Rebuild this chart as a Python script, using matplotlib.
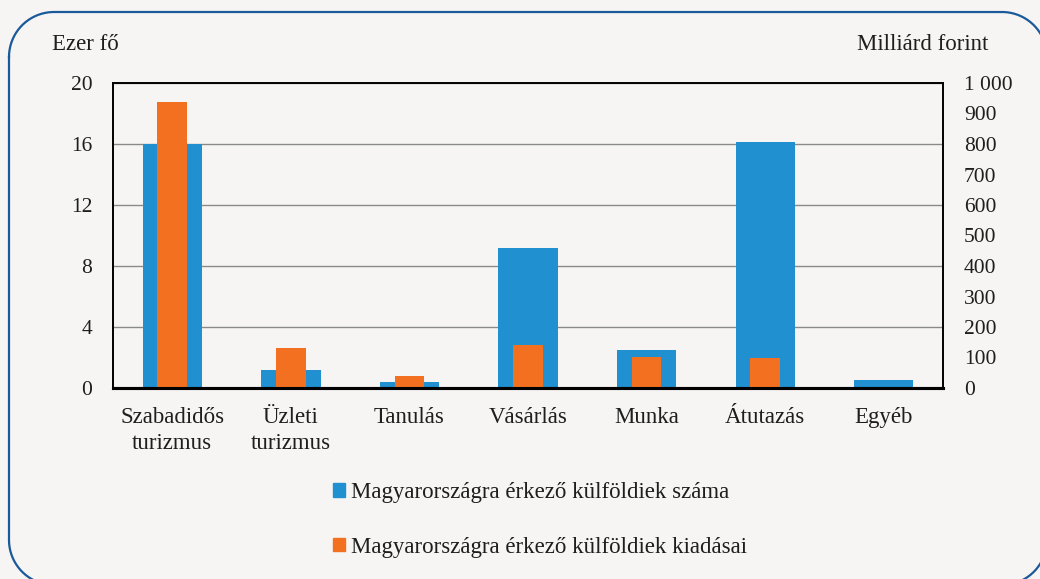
import matplotlib
matplotlib.use("Agg")
import matplotlib.pyplot as plt
import numpy as np
from matplotlib.patches import Patch
from matplotlib.lines import Line2D

categories = ["Szabadidős\nturizmus", "Üzleti\nturizmus", "Tanulás", "Vásárlás", "Munka", "Átutazás", "Egyéb"]
visitors = [16.0, 1.18, 0.37, 9.18, 2.47, 16.13, 0.5]        # ezer fő (left axis)
spending = [938, 131, 38, 141, 102, 100, 0]                   # milliárd forint (right axis)
left_ticks = [0, 4, 8, 12, 16, 20]
right_ticks = list(range(0, 1001, 100))
right_labels = ["0", "100", "200", "300", "400", "500", "600", "700", "800", "900", "1 000"]
legend_labels = ["Magyarországra érkező külföldiek száma", "Magyarországra érkező külföldiek kiadásai"]

blue = "#2190d0"
orange = "#f37021"
bg = "#f6f5f3"
txt = "#1e1e1e"
FS_TICK = 15.5
FS = 16.5

plt.rcParams['font.family'] = ['Liberation Serif', 'DejaVu Serif']

fig = plt.figure(figsize=(10.4, 5.79), dpi=100, facecolor=bg)
W, H = 1040, 579
ax = fig.add_axes([113 / W, 1 - 388 / H, (943 - 113) / W, (388 - 83) / H])
ax.set_facecolor(bg)
ax2 = ax.twinx()

x = np.arange(len(categories))
ax.bar(x, visitors, width=0.5, color=blue, zorder=2)
ax2.bar(x, spending, width=0.25, color=orange, zorder=2)

ax.set_xlim(-0.5, len(categories) - 0.5)
ax.set_ylim(0, 20)
ax2.set_ylim(0, 1000)
ax.set_yticks(left_ticks)
ax.set_yticklabels([str(t) for t in left_ticks], fontsize=FS_TICK, color=txt)
ax2.set_yticks(right_ticks)
ax2.set_yticklabels(right_labels, fontsize=FS_TICK, color=txt)
ax.set_xticks(x)
ax.set_xticklabels(categories, fontsize=FS, color=txt, linespacing=1.27)

ax.grid(axis='y', color="#8a8a8a", linewidth=1.0, zorder=0)
ax.set_axisbelow(True)
ax.tick_params(axis='x', length=0, pad=14)
ax.tick_params(axis='y', length=0, pad=15)
ax2.tick_params(axis='y', length=0, pad=15)
for a in (ax, ax2):
    for s in a.spines.values():
        s.set_color("black")
        s.set_linewidth(1.2)
ax.spines['bottom'].set_linewidth(2.2)
ax2.spines['bottom'].set_linewidth(2.2)

fig.text(52 / W, 1 - 44 / H, "Ezer fő", fontsize=FS, va='center', ha='left', color=txt)
fig.text(857 / W, 1 - 44 / H, "Milliárd forint", fontsize=FS, va='center', ha='left', color=txt)

handles = [Patch(color=blue), Patch(color=orange)]
leg = fig.legend(handles, legend_labels, loc='center', bbox_to_anchor=(540 / W, 1 - 520 / H),
                 frameon=False, fontsize=FS, labelspacing=1.45, handlelength=0.55, handleheight=0.55,
                 handletextpad=0.25)
for t in leg.get_texts():
    t.set_color(txt)

# decorative rounded frame (pixel coords, top-left origin); right/bottom edges run past the image
fx0, fy0, fx1, fy1, rad = 9, 12, 1047, 585, 45
pts = []
corners = [((fx0 + rad, fy0 + rad), 180, 270), ((fx1 - rad, fy0 + rad), 270, 360),
           ((fx1 - rad, fy1 - rad), 0, 90), ((fx0 + rad, fy1 - rad), 90, 180)]
for (cx, cy), a0, a1 in corners:
    th = np.radians(np.linspace(a0, a1, 40))
    for t in th:
        pts.append((cx + rad * np.cos(t), cy + rad * np.sin(t)))
pts.append(pts[0])
px = np.array([p[0] for p in pts]) / W
py = 1 - np.array([p[1] for p in pts]) / H
fig.add_artist(Line2D(px, py, transform=fig.transFigure, color="#1a5a9a", linewidth=1.6))

fig.savefig("out.png", dpi=100, facecolor=bg)
